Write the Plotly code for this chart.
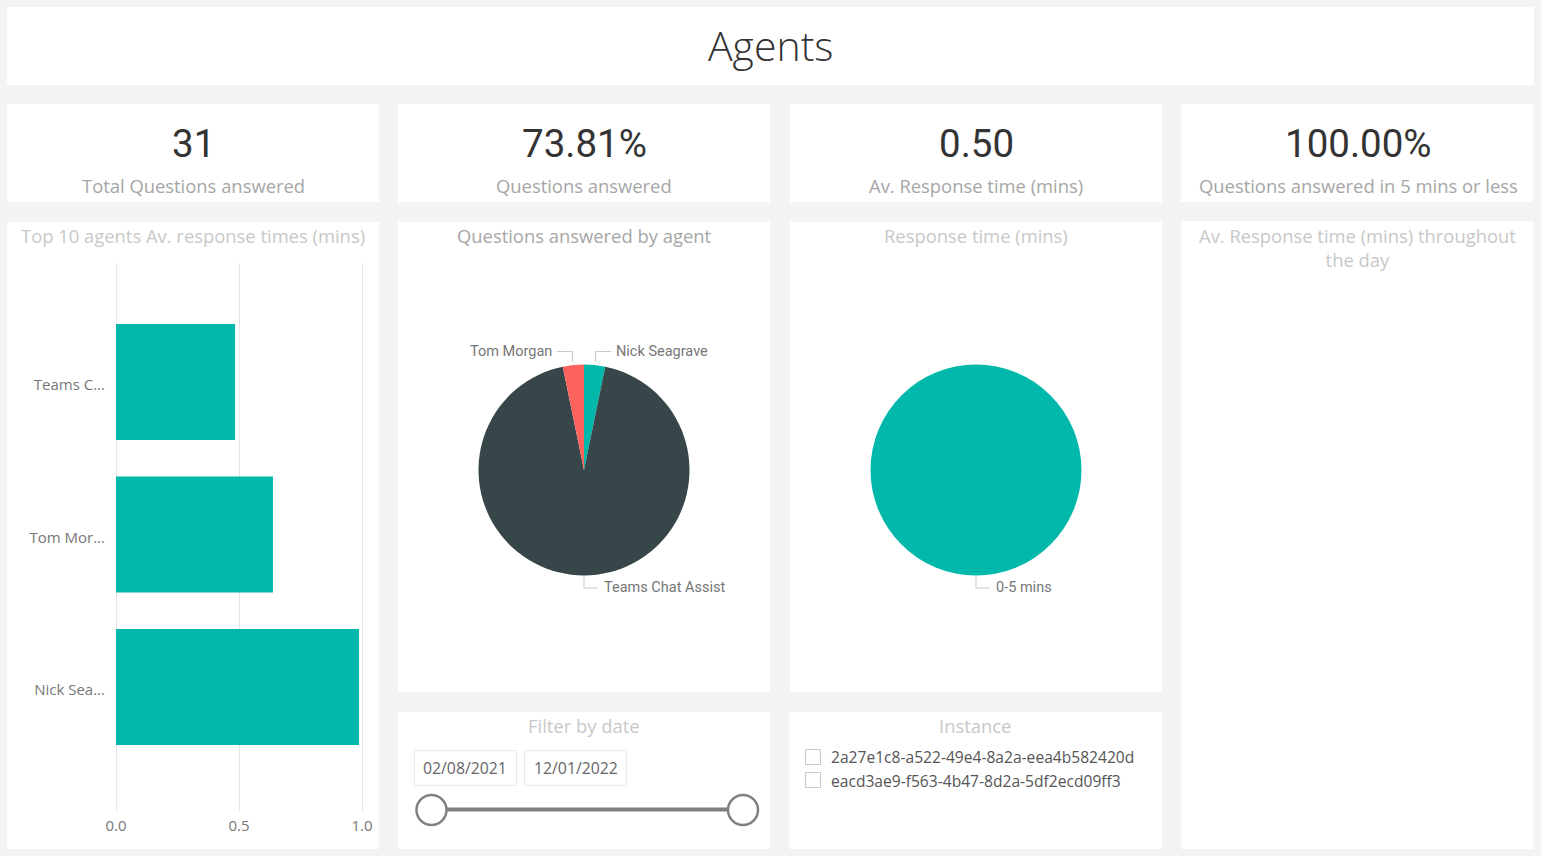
import plotly.graph_objects as go

W, H = 1541, 856
BG = '#f3f3f3'
TEAL = '#01b8aa'
SLATE = '#374649'
RED = '#fd625e'
SEGOE = 'Open Sans, Noto Sans, sans-serif'
DIN = 'Roboto, sans-serif'

agents = ['Teams Chat Assist', 'Tom Morgan', 'Nick Seagrave']
agent_labels = ['Teams C...', 'Tom Mor...', 'Nick Sea...']
avg_response = [0.484, 0.638, 0.988]
x_ticks = [0.0, 0.5, 1.0]

pie_labels = ['Nick Seagrave', 'Teams Chat Assist', 'Tom Morgan']
pie_values = [1, 29, 1]
pie_colors = [TEAL, SLATE, RED]

bucket_labels = ['0-5 mins']
bucket_values = [31]

kpi_values = ['31', '73.81%', '0.50', '100.00%']
kpi_names = ['Total Questions answered', 'Questions answered',
             'Av. Response time (mins)', 'Questions answered in 5 mins or less']
instances = ['2a27e1c8-a522-49e4-8a2a-eea4b582420d',
             'eacd3ae9-f563-4b47-8d2a-5df2ecd09ff3']
dates = ['02/08/2021', '12/01/2022']


def px(x):
    return x / W


def py(y):
    return 1 - y / H


def box(x0, y0, x1, y1, fill='white', line=None, width=1):
    return dict(type='rect', xref='paper', yref='paper', layer='below',
                x0=px(x0), x1=px(x1), y0=py(y0), y1=py(y1),
                fillcolor=fill, line=dict(color=line, width=width if line else 0))


def seg(x0, y0, x1, y1, color='#c8c8c8', width=1):
    return dict(type='line', xref='paper', yref='paper',
                x0=px(x0), x1=px(x1), y0=py(y0), y1=py(y1),
                line=dict(color=color, width=width))


def circle(cx, cy, r):
    return dict(type='circle', xref='paper', yref='paper',
                x0=px(cx - r), x1=px(cx + r), y0=py(cy + r), y1=py(cy - r),
                fillcolor='white', line=dict(color='#808080', width=2.5))


def label(x, y, text, size, color, family=SEGOE, anchor='center', weight=None):
    font = dict(family=family, size=size, color=color)
    if weight:
        font['weight'] = weight
    return dict(xref='paper', yref='paper', x=px(x), y=py(y), text=text,
                showarrow=False, xanchor=anchor, yanchor='middle', font=font)


fig = go.Figure()

fig.add_trace(go.Bar(x=avg_response, y=agent_labels, orientation='h',
                     marker=dict(color=TEAL, line_width=0), width=0.76,
                     customdata=agents, hovertemplate='%{customdata}: %{x}<extra></extra>'))

fig.add_trace(go.Pie(labels=pie_labels, values=pie_values, sort=False,
                     direction='clockwise', rotation=0, textinfo='none',
                     marker=dict(colors=pie_colors, line_width=0),
                     domain=dict(x=[px(478.5), px(689.5)], y=[py(575.5), py(364.5)])))

fig.add_trace(go.Pie(labels=bucket_labels, values=bucket_values, sort=False,
                     textinfo='none', marker=dict(colors=[TEAL], line_width=0),
                     domain=dict(x=[px(870.5), px(1081.5)], y=[py(575.5), py(364.5)])))

shapes = [
    box(7, 7, 1534, 85),
    box(7, 104, 379, 202), box(398, 104, 770, 202),
    box(790, 104, 1162, 202), box(1181, 104, 1533, 202),
    box(7, 222, 379, 849), box(398, 222, 770, 692), box(790, 222, 1162, 692),
    box(1181, 221, 1533, 849), box(398, 712, 770, 849), box(789, 712, 1162, 849),
    # date boxes
    box(414.5, 750.5, 516.5, 785.5, line='#eaeaea'),
    box(524.5, 750.5, 626.5, 785.5, line='#eaeaea'),
    # checkboxes
    box(805.5, 749.5, 820.5, 764.5, line='#c8c8c8'),
    box(805.5, 772.5, 820.5, 787.5, line='#c8c8c8'),
    # slider
    seg(431, 809.5, 743, 809.5, color='#808080', width=4),
    circle(431.5, 810, 15), circle(743, 810, 15),
    # pie leader lines
    seg(557, 351.5, 572.5, 351.5), seg(572.5, 351.5, 572.5, 362),
    seg(611, 351.5, 595.5, 351.5), seg(595.5, 351.5, 595.5, 362),
    seg(584, 576, 584, 588), seg(584, 588, 598, 588),
    seg(976, 576, 976, 588), seg(976, 588, 990, 588),
]

annotations = [
    label(770.5, 45, 'Agents', 41, '#333333', weight=300),
    label(193, 236, 'Top 10 agents Av. response times (mins)', 18.4, '#c8c8c8'),
    label(584, 236, 'Questions answered by agent', 18.4, '#a6a6a6'),
    label(976, 236, 'Response time (mins)', 18.4, '#c8c8c8'),
    label(1357, 247.5, 'Av. Response time (mins) throughout<br>the day', 18.4, '#c8c8c8'),
    label(584, 725.5, 'Filter by date', 18.4, '#c8c8c8'),
    label(975, 725.5, 'Instance', 18.4, '#c8c8c8'),
    label(554, 351, 'Tom Morgan', 14.5, '#777777', DIN, 'right'),
    label(614, 351, 'Nick Seagrave', 14.5, '#777777', DIN, 'left'),
    label(602, 587, 'Teams Chat Assist', 14.5, '#777777', DIN, 'left'),
    label(994, 587, bucket_labels[0], 14.5, '#777777', DIN, 'left'),
    label(464.5, 768, dates[0], 15.8, '#666666'),
    label(575.5, 768, dates[1], 15.8, '#666666'),
    label(829, 757, instances[0], 15.6, '#555555', SEGOE, 'left'),
    label(829, 781, instances[1], 15.6, '#555555', SEGOE, 'left'),
]
for cx, val, name in zip([193, 584, 976, 1358], kpi_values, kpi_names):
    annotations.append(label(cx, 143, val, 38.5, '#333333', DIN))
    annotations.append(label(cx, 185.5, name, 18.4, '#a6a6a6'))

fig.update_layout(
    width=W, height=H, paper_bgcolor=BG, plot_bgcolor='rgba(0,0,0,0)',
    margin=dict(l=0, r=0, t=0, b=0, autoexpand=False), showlegend=False,
    # range runs past 0 and 1 so plotly keeps the end gridlines
    xaxis=dict(domain=[px(112), px(366)], range=[-4 / 246, 1 + 4 / 246], tickvals=x_ticks,
               ticktext=['0.0', '0.5', '1.0'], showgrid=True, gridcolor='#e6e6e6',
               gridwidth=1, zeroline=False, showline=False, ticks='', anchor='y',
               automargin=False, ticklabelstandoff=3,
               tickfont=dict(family=SEGOE, size=15, color='#777777')),
    yaxis=dict(domain=[py(812), py(263)], range=[2.82, -0.78], type='category',
               categoryorder='array', categoryarray=agent_labels, showgrid=False,
               zeroline=False, showline=False, ticks='', anchor='free', position=px(116),
               automargin=False, ticklabelstandoff=11, ticklabelshift=-3,
               tickfont=dict(family=SEGOE, size=15, color='#777777')),
    shapes=shapes, annotations=annotations,
)

fig.write_html("out.html", config={'displayModeBar': False},
               post_script="document.body.style.margin='0';")
